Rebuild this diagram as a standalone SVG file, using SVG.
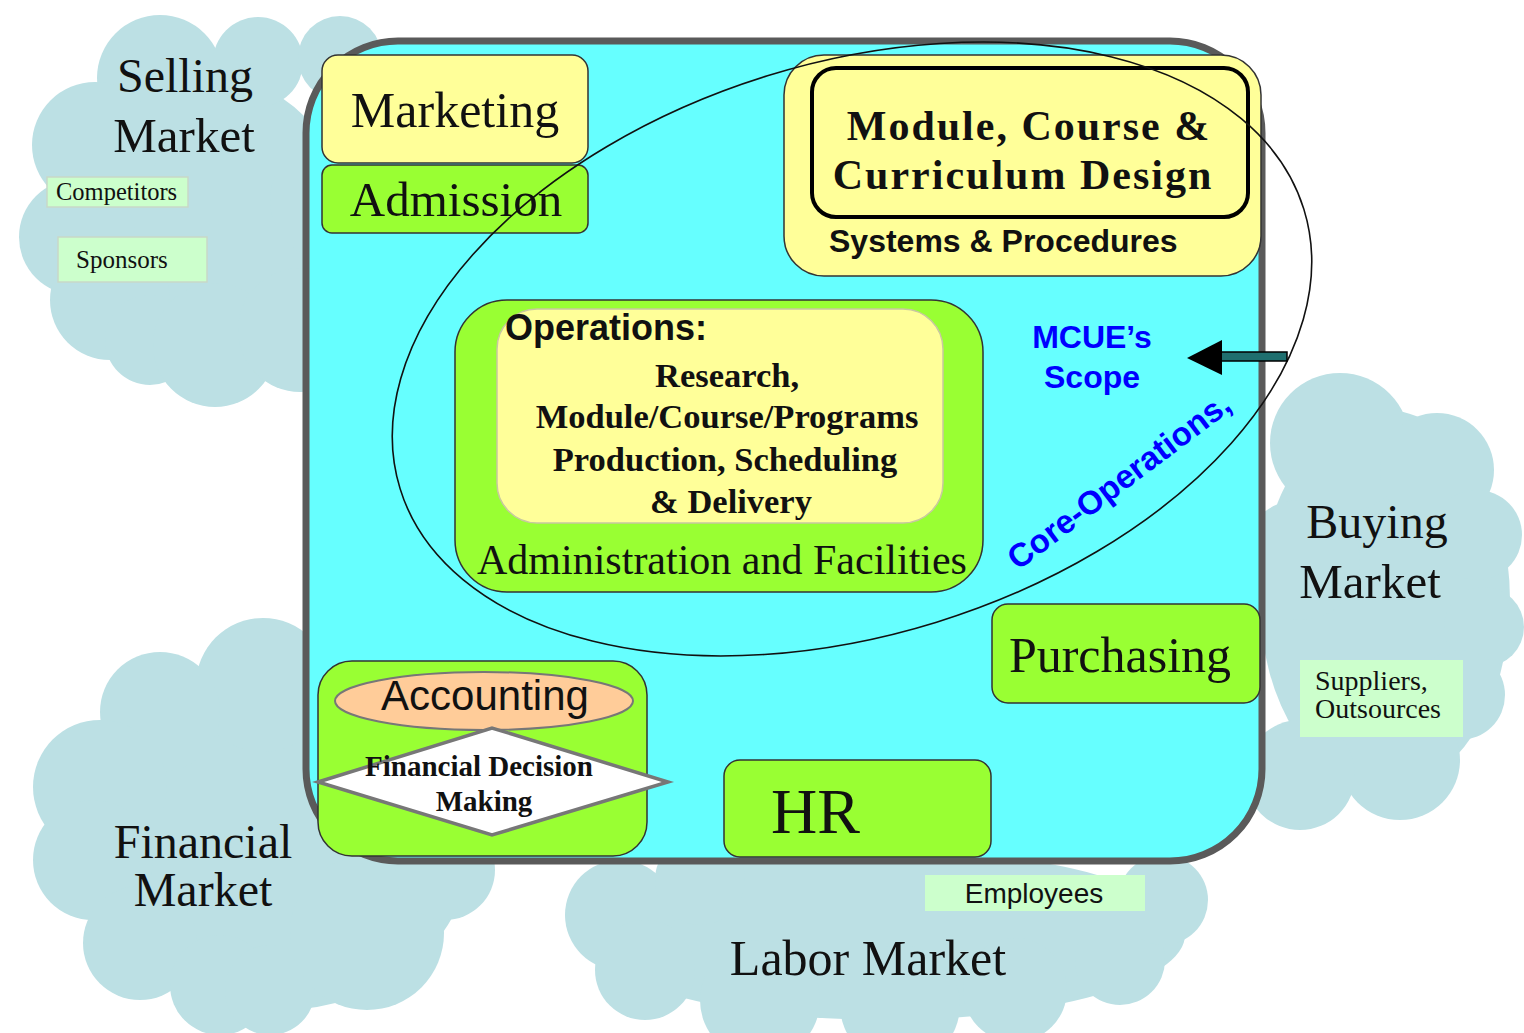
<svg xmlns="http://www.w3.org/2000/svg" width="1524" height="1033" viewBox="0 0 1524 1033">
<style>
.cloud{fill:#BCE0E4;stroke:none}
.serif{font-family:"Liberation Serif","Times New Roman",serif;fill:#111}
.sans{font-family:"Liberation Sans",Arial,sans-serif;fill:#111}
.mid{text-anchor:middle}
.yellow{fill:#FFFF99;stroke:#333;stroke-width:1.5}
.green{fill:#99FF33;stroke:#333;stroke-width:1.5}
.tag{fill:#CCFFCC;stroke:#c8d8c8;stroke-width:1.5}
.blue{font-family:"Liberation Sans",Arial,sans-serif;font-weight:bold;fill:#0000FF}
</style>
<rect width="1524" height="1033" fill="#ffffff"/>

<g id="selling-market">
<g class="cloud">
<ellipse cx="205" cy="215" rx="140" ry="140"/>
<circle cx="160" cy="78" r="63"/>
<circle cx="258" cy="62" r="45"/>
<circle cx="340" cy="58" r="42"/>
<circle cx="95" cy="145" r="63"/>
<circle cx="77" cy="237" r="58"/>
<circle cx="110" cy="300" r="60"/>
<circle cx="150" cy="340" r="45"/>
<circle cx="215" cy="345" r="62"/>
<circle cx="300" cy="330" r="62"/>
<circle cx="330" cy="200" r="60"/>
</g>
<text class="serif mid" x="185" y="92" font-size="48">Selling</text>
<text class="serif mid" x="184" y="152" font-size="49">Market</text>
<rect class="tag" x="47" y="177" width="141" height="30"/>
<text class="serif" x="56" y="200" font-size="24.5" fill="#222">Competitors</text>
<rect class="tag" x="58" y="237" width="149" height="45"/>
<text class="serif" x="76" y="268" font-size="25" fill="#222">Sponsors</text>
</g>

<g id="financial-market">
<g class="cloud">
<ellipse cx="280" cy="850" rx="190" ry="160"/>
<circle cx="263" cy="685" r="67"/>
<circle cx="160" cy="712" r="60"/>
<circle cx="100" cy="787" r="67"/>
<circle cx="93" cy="860" r="60"/>
<circle cx="140" cy="943" r="57"/>
<circle cx="220" cy="985" r="50"/>
<circle cx="270" cy="990" r="45"/>
<circle cx="367" cy="933" r="77"/>
<circle cx="445" cy="870" r="50"/>
<circle cx="380" cy="740" r="70"/>
</g>
<text class="serif mid" x="203" y="858" font-size="48">Financial</text>
<text class="serif mid" x="203" y="906" font-size="48">Market</text>
</g>

<g id="buying-market">
<g class="cloud">
<ellipse cx="1385" cy="600" rx="125" ry="190"/>
<circle cx="1340" cy="443" r="70"/>
<circle cx="1437" cy="470" r="57"/>
<circle cx="1477" cy="535" r="45"/>
<circle cx="1484" cy="627" r="40"/>
<circle cx="1460" cy="695" r="45"/>
<circle cx="1400" cy="760" r="60"/>
<circle cx="1300" cy="775" r="55"/>
<circle cx="1300" cy="560" r="60"/>
</g>
<text class="serif mid" x="1377" y="538" font-size="48">Buying</text>
<text class="serif mid" x="1370" y="598" font-size="49">Market</text>
<rect x="1300" y="660" width="163" height="77" fill="#CCFFCC"/>
<text class="serif" x="1315" y="690" font-size="28" fill="#444">Suppliers,</text>
<text class="serif" x="1315" y="718" font-size="28" fill="#444">Outsources</text>
</g>

<g id="labor-market">
<g class="cloud">
<ellipse cx="885" cy="935" rx="300" ry="85"/>
<circle cx="620" cy="915" r="55"/>
<circle cx="645" cy="970" r="50"/>
<circle cx="760" cy="1000" r="60"/>
<circle cx="900" cy="1005" r="60"/>
<circle cx="1015" cy="990" r="52"/>
<circle cx="1120" cy="960" r="45"/>
<circle cx="1163" cy="900" r="45"/>
<circle cx="700" cy="880" r="45"/>
</g>
<text class="serif mid" x="868" y="975" font-size="50">Labor Market</text>
<rect x="925" y="875" width="220" height="36" fill="#CCFFCC"/>
<text class="sans mid" x="1034" y="903" font-size="28">Employees</text>
</g>

<g id="organisation">
<rect x="306" y="41" width="956" height="820" rx="92" ry="92" fill="#66FFFF" stroke="#5a5a5a" stroke-width="7"/>
</g>

<g id="marketing">
<rect class="yellow" x="322" y="55" width="266" height="108" rx="16"/>
<text class="serif mid" x="455" y="127" font-size="50">Marketing</text>
</g>
<g id="admission">
<rect class="green" x="322" y="165" width="266" height="68" rx="10"/>
<text class="serif mid" x="456" y="216" font-size="49">Admission</text>
</g>

<g id="design">
<rect class="yellow" x="784" y="55" width="477" height="221" rx="40"/>
<rect x="812" y="68" width="436" height="149" rx="24" fill="none" stroke="#000" stroke-width="4"/>
<text class="serif mid" x="1029" y="140" font-size="42" font-weight="bold" letter-spacing="2">Module, Course &amp;</text>
<text class="serif mid" x="1023" y="189" font-size="42" font-weight="bold" letter-spacing="2">Curriculum Design</text>
<text class="sans" x="829" y="252" font-size="32" font-weight="bold">Systems &amp; Procedures</text>
</g>

<g id="operations">
<rect class="green" x="455" y="300" width="528" height="292" rx="52"/>
<rect x="497" y="309" width="446" height="214" rx="40" fill="#FFFF99" stroke="#c8c8a0" stroke-width="1.5"/>
<text class="sans" x="505" y="340" font-size="36" font-weight="bold">Operations:</text>
<g class="serif mid" font-size="34.5" font-weight="bold">
<text x="727" y="387">Research,</text>
<text x="727" y="428">Module/Course/Programs</text>
<text x="725" y="471">Production, Scheduling</text>
<text x="731" y="513">&amp; Delivery</text>
</g>
<text class="serif mid" x="722" y="574" font-size="42">Administration and Facilities</text>
</g>

<g id="purchasing">
<rect class="green" x="992" y="604" width="268" height="99" rx="16"/>
<text class="serif mid" x="1120" y="672" font-size="50">Purchasing</text>
</g>

<g id="accounting">
<rect class="green" x="318" y="661" width="329" height="195" rx="34"/>
<ellipse cx="484" cy="701" rx="149" ry="29" fill="#FFCC99" stroke="#777" stroke-width="2"/>
<text class="sans mid" x="485" y="710" font-size="42">Accounting</text>
</g>

<g id="financial-decision">
<polygon points="318,782 492,728 668,782 492,835" fill="#ffffff" stroke="#777" stroke-width="3.5" stroke-linejoin="miter"/>
<text class="serif mid" x="479" y="776" font-size="29" font-weight="bold">Financial Decision</text>
<text class="serif mid" x="484" y="811" font-size="29" font-weight="bold">Making</text>
</g>

<g id="hr">
<rect class="green" x="724" y="760" width="267" height="97" rx="16"/>
<text class="serif" x="771" y="833" font-size="64">HR</text>
</g>

<g id="connectors">
<ellipse cx="852" cy="349" rx="473" ry="286" transform="rotate(-17.2 852 349)" fill="none" stroke="#111" stroke-width="1.6"/>
<rect x="1220" y="352" width="67" height="9" fill="#1f6f6f" stroke="#000" stroke-width="1.5"/>
<polygon points="1187,358 1222,340 1222,375" fill="#000"/>
</g>

<g id="scope-labels">
<text class="blue mid" x="1092" y="348" font-size="32">MCUE’s</text>
<text class="blue mid" x="1092" y="388" font-size="32">Scope</text>
<text class="blue" x="1018" y="571" font-size="33" transform="rotate(-37 1018 571)">Core-Operations,</text>
</g>
</svg>
